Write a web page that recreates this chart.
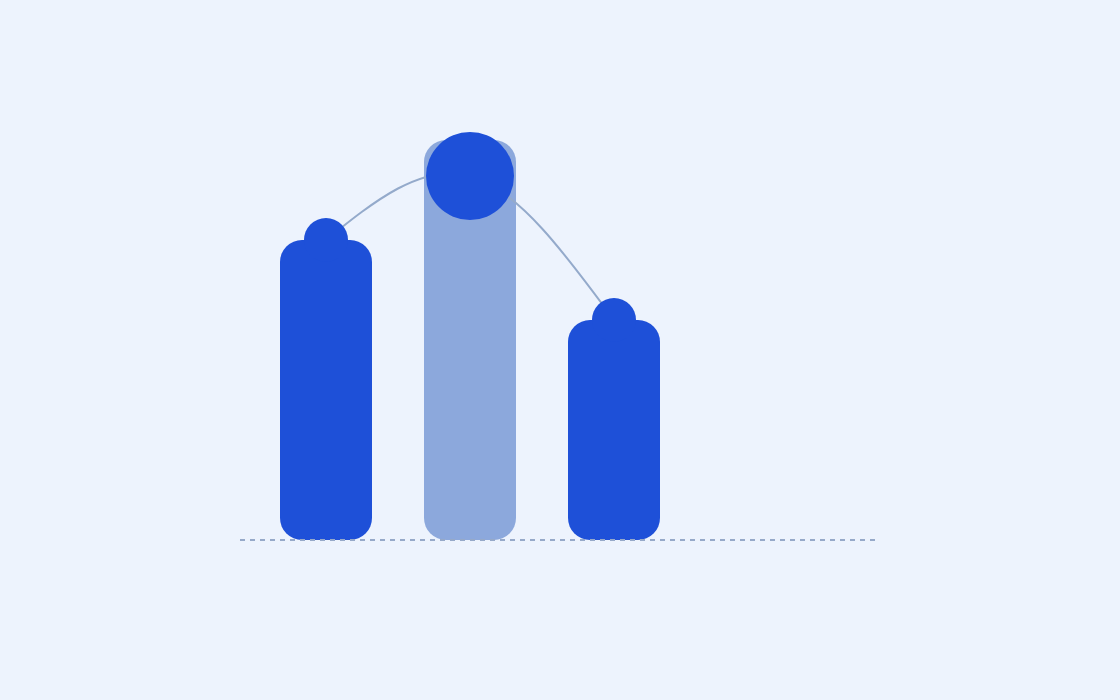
<!DOCTYPE html>
<html>
<head>
<meta charset="utf-8">
<script src="https://cdn.jsdelivr.net/npm/d3@7"></script>
<style>
  html, body { margin: 0; padding: 0; background: #edf3fd; }
  #container { width: 1120px; height: 700px; }
</style>
</head>
<body>
<div id="container"></div>
<script>
const categories = ["A", "B", "C"];
const barValues = [75, 100, 55];
const markerValues = [75, 91, 55];
const highlighted = [false, true, false];

const w = 1120;
const h = 700;
const baseY = 540;

const xScale = d3
  .scaleBand()
  .domain(categories)
  .range([280, 660])
  .paddingInner(52 / 144)
  .paddingOuter(0);

const yScale = d3
  .scaleLinear()
  .domain([0, 100])
  .range([baseY, 140]);

const svg = d3
  .select("#container")
  .append("svg")
  .attr("width", w)
  .attr("height", h)
  .style("background-color", "#edf3fd");

const r = 22;
const bw = xScale.bandwidth();

// bars, rounded on all corners
svg
  .selectAll("rect.bar")
  .data(categories)
  .enter()
  .append("rect")
  .attr("class", "bar")
  .attr("x", (d) => xScale(d))
  .attr("y", (d, i) => yScale(barValues[i]))
  .attr("width", bw)
  .attr("height", (d, i) => baseY - yScale(barValues[i]))
  .attr("rx", r)
  .attr("ry", r)
  .attr("fill", (d, i) => (highlighted[i] ? "#8ca8dc" : "#1e50d8"));

// curve joining the markers
const line = d3
  .line()
  .x((d) => xScale(d) + bw / 2)
  .y((d, i) => yScale(markerValues[i]))
  .curve(d3.curveNatural);

svg
  .append("path")
  .attr("d", line(categories))
  .attr("fill", "none")
  .attr("stroke", "#94aacb")
  .attr("stroke-width", 2);

// baseline
svg
  .append("line")
  .attr("x1", 240)
  .attr("x2", 875)
  .attr("y1", baseY)
  .attr("y2", baseY)
  .attr("stroke", "#96a9c9")
  .attr("stroke-width", 2)
  .attr("stroke-dasharray", "5 5");

svg
  .selectAll("circle.marker")
  .data(categories)
  .enter()
  .append("circle")
  .attr("class", "marker")
  .attr("cx", (d) => xScale(d) + bw / 2)
  .attr("cy", (d, i) => yScale(markerValues[i]))
  .attr("r", (d, i) => (highlighted[i] ? 44 : 22))
  .attr("fill", "#1e50d8");
</script>
</body>
</html>
